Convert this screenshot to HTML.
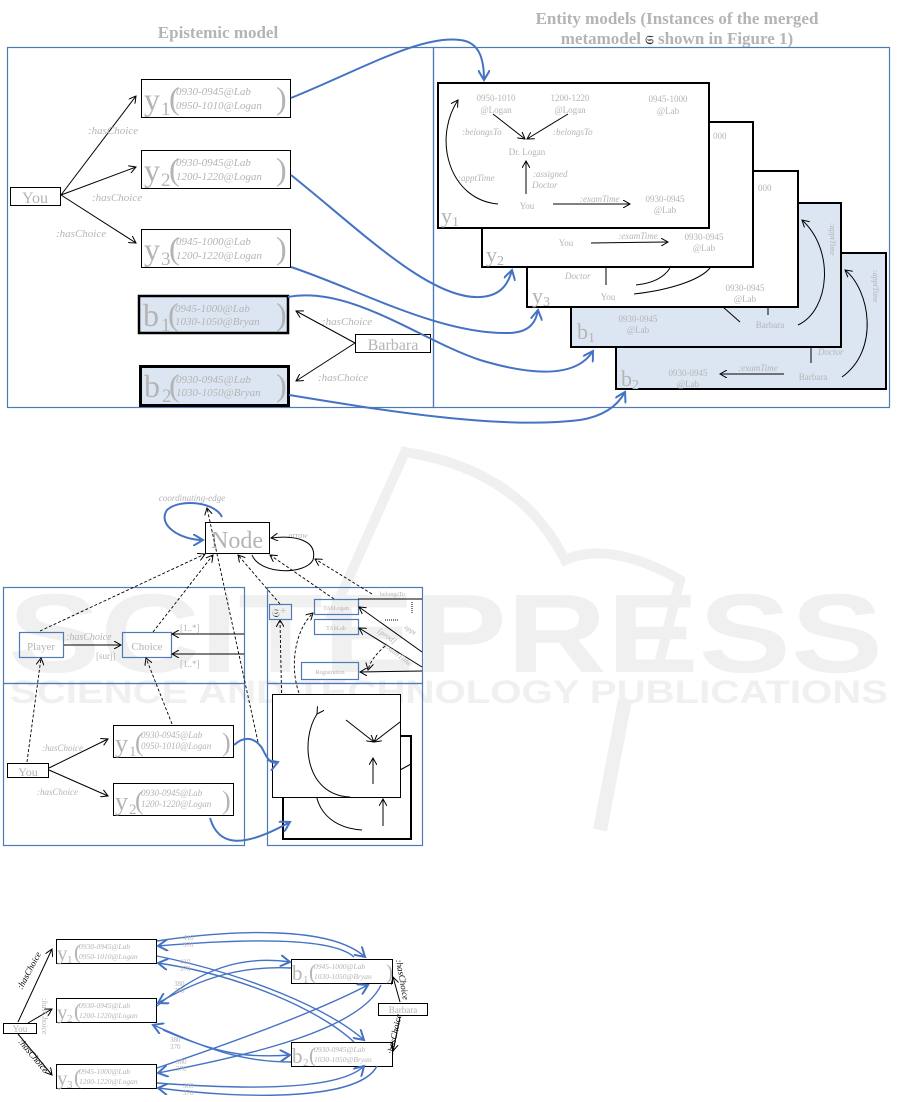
<!DOCTYPE html>
<html><head><meta charset="utf-8"><style>
html,body{margin:0;padding:0;background:#fff}
svg{display:block}
.g{fill:#b4b4b4;font-family:"Liberation Serif",serif}
.i{font-style:italic}
.bl{fill:none;stroke:#4472c4;stroke-width:2}
.pb{fill:none;stroke:#4f7ab8;stroke-width:1.2}
.k{stroke:#000;stroke-width:1;fill:none}
.d{stroke:#000;stroke-width:0.9;fill:none;stroke-dasharray:3,2}
.wm{fill:#f0f0f0;font-family:"Liberation Sans",sans-serif;font-weight:bold}
</style></head><body>
<svg width="901" height="1102" viewBox="0 0 901 1102" xmlns="http://www.w3.org/2000/svg">
<defs>
<marker id="a" markerWidth="8" markerHeight="8" refX="7" refY="4" orient="auto" markerUnits="userSpaceOnUse"><path d="M0,0 L7,4 L0,8" fill="none" stroke="#000" stroke-width="1"/></marker>
<marker id="b" markerWidth="12" markerHeight="12" refX="10" refY="6" orient="auto" markerUnits="userSpaceOnUse"><path d="M0,0 L10,6 L0,12" fill="none" stroke="#4472c4" stroke-width="2"/></marker>
</defs>

<!-- watermark -->
<path d="M330,620 L405,452 Q520,470 565,560 Q610,540 680,580 L660,660" fill="none" stroke="#f0f0f0" stroke-width="10"/>
<path d="M600,830 L625,700" fill="none" stroke="#f0f0f0" stroke-width="14"/>
<text class="wm" x="8" y="672" font-size="112" textLength="875" lengthAdjust="spacingAndGlyphs">SCITEPRESS</text>
<text class="wm" x="10" y="703" font-size="32" textLength="878" lengthAdjust="spacingAndGlyphs">SCIENCE AND TECHNOLOGY PUBLICATIONS</text>

<!-- ============ TOP ============ -->
<text class="g" x="218" y="38" font-size="17" font-weight="bold" text-anchor="middle">Epistemic model</text>
<text class="g" x="677" y="24" font-size="17" font-weight="bold" text-anchor="middle">Entity models (Instances of the merged</text>
<text class="g" x="677" y="44" font-size="17" font-weight="bold" text-anchor="middle">metamodel <tspan fill="#333" font-size="12">𝔖</tspan>   shown in Figure 1)</text>
<rect class="pb" x="7.5" y="47.5" width="426" height="360"/>
<rect class="pb" x="433.5" y="47.5" width="456" height="360"/>

<rect x="10.5" y="187.5" width="50" height="18" fill="#fff" stroke="#000"/>
<text class="g" x="35" y="203" font-size="16" text-anchor="middle">You</text>
<line class="k" x1="61" y1="195" x2="136" y2="96" marker-end="url(#a)"/>
<line class="k" x1="61" y1="195" x2="136" y2="167" marker-end="url(#a)"/>
<line class="k" x1="61" y1="195" x2="136" y2="243" marker-end="url(#a)"/>
<text class="g i" x="88" y="134" font-size="11">:hasChoice</text>
<text class="g i" x="92" y="201" font-size="11">:hasChoice</text>
<text class="g i" x="56" y="237" font-size="11">:hasChoice</text>

<g>
<rect x="141.5" y="79.5" width="149" height="38" fill="#fff" stroke="#000"/>
<text class="g" x="144" y="110" font-size="32">y</text><text class="g" x="161" y="115" font-size="19">1</text>
<text class="g" x="169" y="109" font-size="32">(</text><text class="g i" x="176" y="95" font-size="11">0930-0945@Lab</text><text class="g i" x="176" y="109" font-size="11">0950-1010@Logan</text><text class="g" x="276" y="109" font-size="32">)</text>
</g>
<g>
<rect x="141.5" y="150.5" width="149" height="38" fill="#fff" stroke="#000"/>
<text class="g" x="144" y="181" font-size="32">y</text><text class="g" x="161" y="186" font-size="19">2</text>
<text class="g" x="169" y="180" font-size="32">(</text><text class="g i" x="176" y="166" font-size="11">0930-0945@Lab</text><text class="g i" x="176" y="180" font-size="11">1200-1220@Logan</text><text class="g" x="276" y="180" font-size="32">)</text>
</g>
<g>
<rect x="141.5" y="229.5" width="149" height="38" fill="#fff" stroke="#000"/>
<text class="g" x="144" y="260" font-size="32">y</text><text class="g" x="161" y="265" font-size="19">3</text>
<text class="g" x="169" y="259" font-size="32">(</text><text class="g i" x="176" y="245" font-size="11">0945-1000@Lab</text><text class="g i" x="176" y="259" font-size="11">1200-1220@Logan</text><text class="g" x="276" y="259" font-size="32">)</text>
</g>
<g>
<rect x="139" y="296" width="149" height="37" fill="#dce6f2" stroke="#000" stroke-width="2.5"/>
<text class="g" x="143" y="326" font-size="32">b</text><text class="g" x="161" y="331" font-size="19">1</text>
<text class="g" x="168" y="325" font-size="32">(</text><text class="g i" x="175" y="312" font-size="11">0945-1000@Lab</text><text class="g i" x="175" y="325" font-size="11">1030-1050@Bryan</text><text class="g" x="276" y="325" font-size="32">)</text>
</g>
<g>
<rect x="140.5" y="366.5" width="148" height="39" fill="#dce6f2" stroke="#000" stroke-width="3"/>
<text class="g" x="144" y="397" font-size="32">b</text><text class="g" x="162" y="402" font-size="19">2</text>
<text class="g" x="169" y="396" font-size="32">(</text><text class="g i" x="176" y="383" font-size="11">0930-0945@Lab</text><text class="g i" x="176" y="396" font-size="11">1030-1050@Bryan</text><text class="g" x="276" y="396" font-size="32">)</text>
</g>

<rect x="355.5" y="334.5" width="75" height="18" fill="#fff" stroke="#000"/>
<text class="g" x="393" y="350" font-size="16" text-anchor="middle">Barbara</text>
<line class="k" x1="355" y1="343" x2="296" y2="311" marker-end="url(#a)"/>
<line class="k" x1="355" y1="343" x2="296" y2="381" marker-end="url(#a)"/>
<text class="g i" x="322" y="325" font-size="11">:hasChoice</text>
<text class="g i" x="318" y="381" font-size="11">:hasChoice</text>

<g>
<rect x="616" y="253" width="270" height="136" fill="#dce6f2" stroke="#000" stroke-width="2"/>
<text class="g" x="621" y="386" font-size="22">b<tspan font-size="14" dy="3">2</tspan></text>
<text class="g" x="688" y="376" font-size="9" text-anchor="middle">0930-0945</text><text class="g" x="688" y="387" font-size="9" text-anchor="middle">@Lab</text>
<line class="k" x1="784" y1="374" x2="720" y2="374" marker-end="url(#a)"/>
<text class="g i" x="758" y="371" font-size="9" text-anchor="middle">:examTime</text>
<text class="g" x="813" y="380" font-size="9" text-anchor="middle">Barbara</text>
<path class="k" d="M842,377 C880,350 870,290 845,270" marker-end="url(#a)"/>
<text class="g i" x="845" y="302" font-size="8" transform="rotate(90 875 300)">:apptTime</text>
<text class="g i" x="818" y="355" font-size="9">Doctor</text>
<line class="k" x1="811" y1="348" x2="811" y2="363"/>
</g>
<g>
<rect x="571" y="203" width="270" height="144" fill="#dce6f2" stroke="#000" stroke-width="2"/>
<text class="g" x="577" y="339" font-size="22">b<tspan font-size="14" dy="3">1</tspan></text>
<text class="g" x="638" y="322" font-size="9" text-anchor="middle">0930-0945</text><text class="g" x="638" y="333" font-size="9" text-anchor="middle">@Lab</text>
<text class="g" x="770" y="328" font-size="9" text-anchor="middle">Barbara</text>
<path class="k" d="M798,325 C830,310 835,250 802,220" marker-end="url(#a)"/>
<text class="g i" x="805" y="252" font-size="8" transform="rotate(90 832 250)">:apptTime</text>
<line class="k" x1="723" y1="307" x2="740" y2="322"/>
<line class="k" x1="768" y1="305" x2="768" y2="315"/>
</g>
<g>
<rect x="527" y="171" width="271" height="136" fill="#fff" stroke="#000" stroke-width="2"/>
<text class="g" x="532" y="303" font-size="22">y<tspan font-size="14" dy="3">3</tspan></text>
<text class="g" x="745" y="291" font-size="9" text-anchor="middle">0930-0945</text><text class="g" x="745" y="302" font-size="9" text-anchor="middle">@Lab</text>
<text class="g" x="608" y="300" font-size="9" text-anchor="middle">You</text>
<text class="g i" x="565" y="279" font-size="9">Doctor</text>
<line class="k" x1="606" y1="268" x2="606" y2="285"/>
<path class="k" d="M636,285 C655,283 665,276 670,268"/>
<path class="k" d="M634,294 C670,290 700,280 710,268"/>
<text class="g" x="758" y="191" font-size="9">000</text>
</g>
<g>
<rect x="482" y="122" width="271" height="145" fill="#fff" stroke="#000" stroke-width="2"/>
<text class="g" x="486" y="262" font-size="22">y<tspan font-size="14" dy="3">2</tspan></text>
<text class="g" x="704" y="240" font-size="9" text-anchor="middle">0930-0945</text><text class="g" x="704" y="251" font-size="9" text-anchor="middle">@Lab</text>
<text class="g" x="566" y="246" font-size="9" text-anchor="middle">You</text>
<line class="k" x1="591" y1="243" x2="668" y2="242" marker-end="url(#a)"/>
<text class="g i" x="638" y="239" font-size="9" text-anchor="middle">:examTime</text>
<text class="g" x="713" y="139" font-size="9">000</text>
</g>
<g>
<rect x="438" y="83" width="271" height="145" fill="#fff" stroke="#000" stroke-width="2"/>
<text class="g" x="441" y="223" font-size="22">y<tspan font-size="14" dy="3">1</tspan></text>
<text class="g" x="496" y="101" font-size="9" text-anchor="middle">0950-1010</text><text class="g" x="496" y="113" font-size="9" text-anchor="middle">@Logan</text>
<text class="g" x="570" y="101" font-size="9" text-anchor="middle">1200-1220</text><text class="g" x="570" y="113" font-size="9" text-anchor="middle">@Logan</text>
<text class="g" x="668" y="102" font-size="9" text-anchor="middle">0945-1000</text><text class="g" x="668" y="114" font-size="9" text-anchor="middle">@Lab</text>
<line class="k" x1="493" y1="114" x2="525" y2="139" marker-end="url(#a)"/>
<line class="k" x1="568" y1="114" x2="527" y2="139" marker-end="url(#a)"/>
<text class="g i" x="462" y="135" font-size="9">:belongsTo</text>
<text class="g i" x="553" y="135" font-size="9">:belongsTo</text>
<text class="g" x="527" y="155" font-size="9" text-anchor="middle">Dr. Logan</text>
<line class="k" x1="526" y1="194" x2="526" y2="161" marker-end="url(#a)"/>
<text class="g i" x="533" y="177" font-size="9">:assigned</text><text class="g i" x="532" y="188" font-size="9">Doctor</text>
<text class="g" x="527" y="209" font-size="9" text-anchor="middle">You</text>
<line class="k" x1="553" y1="204" x2="630" y2="204" marker-end="url(#a)"/>
<text class="g i" x="580" y="202" font-size="9">:examTime</text>
<text class="g" x="665" y="202" font-size="9" text-anchor="middle">0930-0945</text><text class="g" x="665" y="213" font-size="9" text-anchor="middle">@Lab</text>
<path class="k" d="M498,204 C450,200 432,140 458,100" marker-end="url(#a)"/>
<text class="g i" x="458" y="181" font-size="9">:apptTime</text>
</g>

<path class="bl" d="M291,98 C360,70 420,35 460,40 C480,42 484,60 484,80" marker-end="url(#b)"/>
<path class="bl" d="M291,175 C360,230 430,300 480,297 C500,296 508,285 512,270" marker-end="url(#b)"/>
<path class="bl" d="M291,267 C360,290 440,335 510,333 C530,332 536,322 538,310" marker-end="url(#b)"/>
<path class="bl" d="M288,297 C350,285 420,340 480,360 C540,378 578,375 593,351" marker-end="url(#b)"/>
<path class="bl" d="M289,395 C380,410 500,430 580,420 C605,416 618,405 625,392" marker-end="url(#b)"/>

<!-- ============ MIDDLE ============ -->
<text class="g i" x="192" y="501" font-size="9" text-anchor="middle">coordinating-edge</text>
<path class="bl" d="M222,517 C215,502 180,498 167,510 C157,525 180,540 203,540" marker-end="url(#b)"/>
<rect x="205.5" y="522.5" width="64" height="31" fill="#fff" stroke="#000"/>
<text class="g" x="237" y="548" font-size="24" text-anchor="middle">Node</text>
<text class="g i" x="298" y="538" font-size="8" text-anchor="middle">arrow</text>
<path class="k" d="M252,555 C260,575 305,575 313,560 C318,540 295,535 271,538" marker-end="url(#a)"/>

<rect class="pb" x="3.5" y="587.5" width="241" height="96"/>
<rect class="pb" x="3.5" y="683.5" width="241" height="162"/>
<rect class="pb" x="267.5" y="587.5" width="155" height="96"/>
<rect class="pb" x="267.5" y="683.5" width="155" height="162"/>

<rect class="pb" x="19.5" y="632.5" width="44" height="25"/>
<text class="g" x="41" y="650" font-size="11" text-anchor="middle">Player</text>
<rect class="pb" x="122.5" y="632.5" width="49" height="25"/>
<text class="g" x="147" y="650" font-size="11" text-anchor="middle">Choice</text>
<line class="k" x1="64" y1="645" x2="121" y2="645" marker-end="url(#a)"/>
<text class="g i" x="66" y="640" font-size="10">:hasChoice</text>
<text class="g" x="96" y="659" font-size="9">[surj]</text>
<line class="k" x1="244" y1="634" x2="172" y2="634" marker-end="url(#a)"/>
<line class="k" x1="244" y1="654" x2="172" y2="654" marker-end="url(#a)"/>
<text class="g" x="180" y="631" font-size="9">[1..*]</text>
<text class="g" x="180" y="667" font-size="9">[1..*]</text>

<line class="d" x1="40" y1="631" x2="205" y2="554" marker-end="url(#a)"/>
<line class="d" x1="153" y1="632" x2="213" y2="555" marker-end="url(#a)"/>
<line class="d" x1="258" y1="742" x2="207" y2="508" marker-end="url(#a)"/>
<line class="d" x1="280" y1="604" x2="238" y2="555" marker-end="url(#a)"/>
<line class="d" x1="334" y1="599" x2="270" y2="555" marker-end="url(#a)"/>
<line class="d" x1="372" y1="594" x2="315" y2="559" marker-end="url(#a)"/>
<line class="d" x1="27" y1="762" x2="41" y2="658" marker-end="url(#a)"/>
<line class="d" x1="172" y1="724" x2="146" y2="658" marker-end="url(#a)"/>
<line class="d" x1="283" y1="763" x2="280" y2="620" marker-end="url(#a)"/>
<path class="d" d="M318,715 C290,705 285,640 313,613" marker-end="url(#a)"/>

<rect class="pb" x="269.5" y="604.5" width="22" height="15"/>
<text x="272" y="617" font-size="11" fill="#333" font-family="DejaVu Sans,sans-serif">𝔖<tspan fill="#bbb" font-size="8" dy="-4">+</tspan></text>
<rect class="pb" x="314.5" y="599.5" width="44" height="15"/>
<text class="g" x="336" y="610" font-size="6" text-anchor="middle">TAbLogan</text>
<rect class="pb" x="314.5" y="619.5" width="44" height="15"/>
<text class="g" x="336" y="630" font-size="6" text-anchor="middle">TAbLab</text>
<rect class="pb" x="301.5" y="662.5" width="57" height="17"/>
<text class="g" x="330" y="674" font-size="6" text-anchor="middle">Registration</text>
<line class="k" x1="358" y1="599" x2="422" y2="599"/>
<text class="g" x="380" y="596" font-size="6">belongsTo</text>
<line x1="412" y1="602" x2="412" y2="614" stroke="#000" stroke-dasharray="1,1"/>
<line x1="385" y1="620" x2="398" y2="620" stroke="#000" stroke-dasharray="1,1"/>
<line class="k" x1="422" y1="652" x2="359" y2="607" marker-end="url(#a)"/>
<line class="k" x1="422" y1="667" x2="359" y2="628" marker-end="url(#a)"/>
<line class="k" x1="422" y1="671" x2="360" y2="672" marker-end="url(#a)"/>
<text class="g i" x="377" y="632" font-size="8" transform="rotate(35 377 632)">[prod]</text>
<text class="g i" x="382" y="645" font-size="8" transform="rotate(38 382 645)">:examTime</text>
<text class="g i" x="404" y="628" font-size="7" transform="rotate(35 404 628)">appt</text>
<path class="d" d="M385,646 C375,655 370,662 368,670" marker-end="url(#a)"/>

<rect x="7.5" y="763.5" width="41" height="14" fill="#fff" stroke="#000"/>
<text class="g" x="28" y="776" font-size="12" text-anchor="middle">You</text>
<line class="k" x1="49" y1="768" x2="108" y2="739" marker-end="url(#a)"/>
<line class="k" x1="49" y1="770" x2="108" y2="796" marker-end="url(#a)"/>
<text class="g i" x="42" y="751" font-size="9">:hasChoice</text>
<text class="g i" x="37" y="795" font-size="9">:hasChoice</text>
<g>
<rect x="113.5" y="725.5" width="120" height="32" fill="#fff" stroke="#000"/>
<text class="g" x="115" y="752" font-size="26">y</text><text class="g" x="129" y="756" font-size="15">1</text>
<text class="g" x="135" y="751" font-size="26">(</text><text class="g i" x="141" y="738" font-size="9">0930-0945@Lab</text><text class="g i" x="141" y="749" font-size="9">0950-1010@Logan</text><text class="g" x="222" y="751" font-size="26">)</text>
</g>
<g>
<rect x="113.5" y="783.5" width="120" height="32" fill="#fff" stroke="#000"/>
<text class="g" x="115" y="810" font-size="26">y</text><text class="g" x="129" y="814" font-size="15">2</text>
<text class="g" x="135" y="809" font-size="26">(</text><text class="g i" x="141" y="796" font-size="9">0930-0945@Lab</text><text class="g i" x="141" y="807" font-size="9">1200-1220@Logan</text><text class="g" x="222" y="809" font-size="26">)</text>
</g>

<rect x="283" y="736" width="128" height="103" fill="#fff" stroke="#000" stroke-width="2"/>
<path class="k" d="M318,777 C310,800 325,828 362,830"/>
<line class="k" x1="383" y1="826" x2="383" y2="799" marker-end="url(#a)"/>
<line class="k" x1="400" y1="770" x2="411" y2="764"/>
<rect x="272.5" y="694.5" width="128" height="103" fill="#fff" stroke="#000"/>
<path class="k" d="M317,714 C300,740 305,795 350,797" marker-start="url(#a)"/>
<line class="k" x1="346" y1="720" x2="374" y2="742" marker-end="url(#a)"/>
<line class="k" x1="400" y1="722" x2="374" y2="742" marker-end="url(#a)"/>
<line class="k" x1="373" y1="784" x2="373" y2="758" marker-end="url(#a)"/>

<path class="bl" d="M234,745 C245,735 255,738 262,748 C267,758 270,765 278,762" marker-end="url(#b)"/>
<path class="bl" d="M210,818 C218,845 240,850 290,822" marker-end="url(#b)"/>

<!-- ============ BOTTOM ============ -->
<rect x="3.5" y="1023.5" width="33" height="10" fill="#fff" stroke="#000"/>
<text class="g" x="20" y="1032" font-size="9" text-anchor="middle">You</text>
<line class="k" x1="18" y1="1022" x2="52" y2="949" marker-end="url(#a)"/>
<line class="k" x1="28" y1="1023" x2="52" y2="1009" marker-end="url(#a)"/>
<line class="k" x1="18" y1="1034" x2="52" y2="1075" marker-end="url(#a)"/>
<text class="i" x="22" y="990" font-size="9" fill="#000" font-family="Liberation Serif,serif" transform="rotate(-62 22 990)">:hasChoice</text>
<text class="i" x="18" y="1042" font-size="9" fill="#000" font-family="Liberation Serif,serif" transform="rotate(50 18 1042)">:hasChoice</text>
<text class="g i" x="42" y="998" font-size="8" transform="rotate(90 42 998)">:hasChoice</text>

<g>
<rect x="56.5" y="939.5" width="100" height="24" fill="#fff" stroke="#000"/>
<text class="g" x="57" y="960" font-size="21">y</text><text class="g" x="67" y="963" font-size="11">1</text>
<text class="g" x="74" y="959" font-size="21">(</text><text class="g i" x="79" y="949" font-size="7.5">0930-0945@Lab</text><text class="g i" x="79" y="959" font-size="7.5">0950-1010@Logan</text>
</g>
<g>
<rect x="56.5" y="998.5" width="100" height="24" fill="#fff" stroke="#000"/>
<text class="g" x="57" y="1019" font-size="21">y</text><text class="g" x="67" y="1022" font-size="11">2</text>
<text class="g" x="74" y="1018" font-size="21">(</text><text class="g i" x="79" y="1008" font-size="7.5">0930-0945@Lab</text><text class="g i" x="79" y="1018" font-size="7.5">1200-1220@Logan</text>
</g>
<g>
<rect x="56.5" y="1064.5" width="100" height="24" fill="#fff" stroke="#000"/>
<text class="g" x="57" y="1085" font-size="21">y</text><text class="g" x="67" y="1088" font-size="11">3</text>
<text class="g" x="74" y="1084" font-size="21">(</text><text class="g i" x="79" y="1074" font-size="7.5">0945-1000@Lab</text><text class="g i" x="79" y="1084" font-size="7.5">1200-1220@Logan</text>
</g>
<g>
<rect x="291.5" y="959.5" width="101" height="24" fill="#fff" stroke="#000"/>
<text class="g" x="292" y="980" font-size="21">b</text><text class="g" x="303" y="983" font-size="11">1</text>
<text class="g" x="309" y="979" font-size="21">(</text><text class="g i" x="314" y="969" font-size="7.5">0945-1000@Lab</text><text class="g i" x="314" y="979" font-size="7.5">1030-1050@Bryan</text><text class="g" x="386" y="979" font-size="21">)</text>
</g>
<g>
<rect x="291.5" y="1042.5" width="101" height="24" fill="#fff" stroke="#000"/>
<text class="g" x="292" y="1063" font-size="21">b</text><text class="g" x="303" y="1066" font-size="11">2</text>
<text class="g" x="309" y="1062" font-size="21">(</text><text class="g i" x="314" y="1052" font-size="7.5">0930-0945@Lab</text><text class="g i" x="314" y="1062" font-size="7.5">1030-1050@Bryan</text>
</g>
<rect x="378.5" y="1003.5" width="49" height="12" fill="#fff" stroke="#000"/>
<text class="g" x="403" y="1013" font-size="9" text-anchor="middle">Barbara</text>
<line class="k" x1="400" y1="1002" x2="393" y2="977" marker-end="url(#a)"/>
<line class="k" x1="400" y1="1017" x2="393" y2="1051" marker-end="url(#a)"/>
<text class="i" x="396" y="960" font-size="9" fill="#000" font-family="Liberation Serif,serif" transform="rotate(80 396 960)">:hasChoice</text>
<text class="i" x="393" y="1055" font-size="9" fill="#000" font-family="Liberation Serif,serif" transform="rotate(-78 393 1055)">:hasChoice</text>

<g fill="none" stroke="#4472c4" stroke-width="1.4">
<path d="M157,941 C230,930 330,925 365,957" marker-end="url(#b)"/>
<path d="M354,957 C330,935 230,940 158,946" marker-end="url(#b)"/>
<path d="M157,956 C250,975 330,1010 364,1040" marker-end="url(#b)"/>
<path d="M354,1042 C320,1010 240,975 158,963" marker-end="url(#b)"/>
<path d="M157,1006 C200,970 240,955 290,962" marker-end="url(#b)"/>
<path d="M291,968 C230,965 190,985 158,1003" marker-end="url(#b)"/>
<path d="M163,1030 C220,1055 250,1058 290,1055" marker-end="url(#b)"/>
<path d="M291,1062 C230,1062 190,1040 153,1025" marker-end="url(#b)"/>
<path d="M157,1068 C240,1040 320,1010 368,985" marker-end="url(#b)"/>
<path d="M381,985 C360,1030 250,1055 158,1073" marker-end="url(#b)"/>
<path d="M157,1083 C250,1090 340,1090 364,1066" marker-end="url(#b)"/>
<path d="M377,1066 C360,1100 250,1100 158,1088" marker-end="url(#b)"/>
</g>
<g class="g" font-size="7">
<text x="183" y="940">410</text><text x="183" y="947">370</text>
<text x="180" y="964">410</text><text x="180" y="971">370</text>
<text x="174" y="986">380</text><text x="174" y="993">370</text>
<text x="170" y="1042">380</text><text x="170" y="1049">370</text>
<text x="176" y="1064">380</text><text x="176" y="1071">370</text>
<text x="183" y="1088">380</text><text x="183" y="1095">370</text>
</g>
</svg>
</body></html>
